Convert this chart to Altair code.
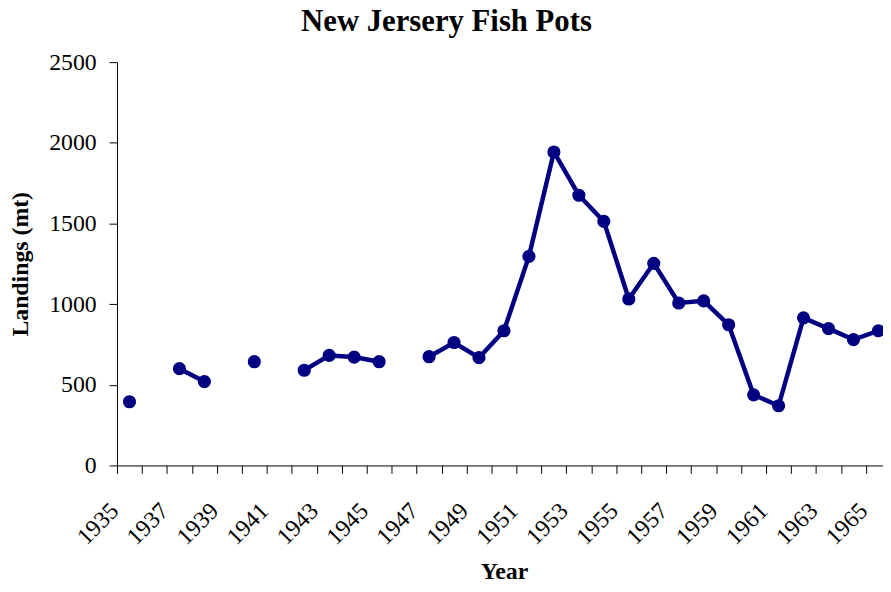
import altair as alt
import pandas as pd

years = list(range(1935, 1966))
landings = [395, None, 600, 520, None, 643, None, 590, 682, 672, 643, None,
            674, 762, 668, 835, 1296, 1943, 1675, 1513, 1032, 1253, 1007, 1020,
            872, 438, 370, 915, 848, 780, 835]
y_ticks = [0, 500, 1000, 1500, 2000, 2500]

# segment id so the line breaks at missing years
seg, segs = 0, []
for v in landings:
    if v is None:
        seg += 1
    segs.append(seg)

df = pd.DataFrame({"year": years, "landings": landings, "seg": segs})
df = df.dropna()

FONT = "Liberation Serif"
NAVY = "#000080"

x_enc = alt.X(
    "year:O",
    scale=alt.Scale(type="band", domain=years, range=[0, 781], paddingInner=0, paddingOuter=0),
    axis=alt.Axis(
        title="Year", tickBand="extent", labelAngle=-45, labelAlign="right",
        labelBaseline="middle", labelExpr="datum.value % 2 == 1 ? datum.label : ''",
        labelOverlap=False, labelPadding=34, labelOffset=-15, tickSize=8, labelFont=FONT,
        labelFontSize=24, labelColor="black", titleFont=FONT, titleFontSize=24,
        titleFontWeight="bold", titleColor="black", titleX=390.5, titleY=114,
        titleAlign="center", titleBaseline="alphabetic", domainColor="black",
        tickColor="black", grid=False,
    ),
)
y_enc = alt.Y(
    "landings:Q",
    scale=alt.Scale(domain=[0, 2500], nice=False),
    axis=alt.Axis(
        title="Landings (mt)", values=y_ticks, format="d", tickSize=8, labelPadding=13,
        grid=False, labelFont=FONT, labelFontSize=24, labelColor="black",
        titleFont=FONT, titleFontSize=24, titleFontWeight="bold", titleColor="black",
        titleX=-97, titleY=203.5, titleAngle=-90, titleAlign="center",
        titleBaseline="middle", domainColor="black", tickColor="black",
    ),
)

base = alt.Chart(df)
line = base.mark_line(color=NAVY, strokeWidth=4.5).encode(x=x_enc, y=y_enc, detail="seg:N")
pts = base.mark_point(color=NAVY, filled=True, opacity=1, size=177).encode(x=x_enc, y=y_enc)

chart = (
    alt.layer(line, pts)
    .properties(
        width=773,
        height=407,
        autosize=alt.AutoSizeParams(type="none"),
        padding={"left": 110, "top": 52, "right": 0, "bottom": 117},
        title=alt.TitleParams(
            "New Jersery Fish Pots", font=FONT, fontSize=31, fontWeight="bold",
            anchor="middle", frame="group", dx=-54, dy=40, offset=28, baseline="alphabetic",
            color="black",
        ),
        background="white",
    )
    .configure_view(stroke=None)
)

chart.save("out.html", embed_options={"renderer": "svg", "actions": False})
